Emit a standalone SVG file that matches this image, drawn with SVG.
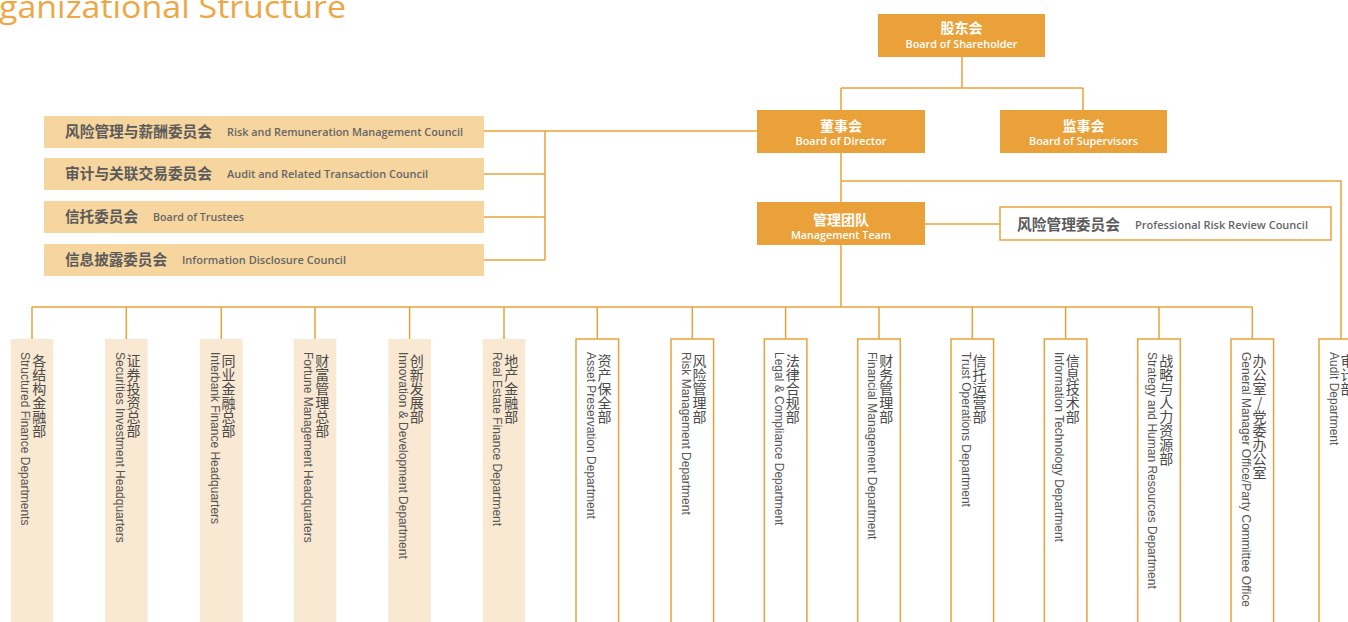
<svg xmlns="http://www.w3.org/2000/svg" width="1348" height="622" viewBox="0 0 1348 622">
<style>
.ln{stroke:#E9A23B;stroke-width:1.5;fill:none}
.ob{fill:#EBA13A}
.cb{fill:#F6D59E}
.lb{fill:#F9E8D2}
.wb{fill:#fff;stroke:#E9A23B;stroke-width:1.5}
.wcn{font-family:"Noto Sans CJK SC",sans-serif;font-size:14px;font-weight:700;fill:#fff;text-anchor:middle}
.wen{font-family:"Open Sans","Liberation Sans",sans-serif;font-size:11px;font-weight:600;fill:#fff;text-anchor:middle}
.ccn{font-family:"Noto Sans CJK SC",sans-serif;font-size:14.5px;font-weight:700;fill:#5a5a5a}
.cen{font-family:"Open Sans","Liberation Sans",sans-serif;font-size:11px;font-weight:600;fill:#666}
.vc{font-family:"Noto Sans CJK SC",sans-serif;font-size:14px;fill:#4a4a4a;writing-mode:vertical-rl;text-orientation:upright}
.ve{font-family:"Liberation Sans",sans-serif;font-size:12px;fill:#555;writing-mode:vertical-rl}
.title{font-family:"Open Sans","Liberation Sans",sans-serif;font-size:31px;fill:#ECA847}
</style>
<text class="title" x="-1" y="18" textLength="347" lengthAdjust="spacingAndGlyphs">ganizational Structure</text>

<g id="connectors">
<path class="ln" d="M962 57V88M841 88H1083M841 88V110M1083 88V110"/>
<path class="ln" d="M757 131H545M545 131V260M484 131H545M484 174H545M484 217H545M484 260H545"/>
<path class="ln" d="M841 153V202M841 181H1341V339M925 224H1000M841 245V307M32 307H1252.5"/>
<path class="ln" d="M32 307V339M126.3 307V339M221.3 307V339M315 307V339M409.6 307V339M504 307V339M597.3 307V339M692.3 307V339M785.6 307V339M879 307V339M972.3 307V339M1065.6 307V339M1159 307V339M1252.3 307V339"/>
</g>

<g id="shareholder"><rect class="ob" x="878" y="14" width="167" height="43"/><text class="wcn" x="961.5" y="33">股东会</text><text class="wen" x="961.5" y="48" textLength="112" lengthAdjust="spacingAndGlyphs">Board of Shareholder</text></g>
<g id="director"><rect class="ob" x="757" y="110" width="168" height="43"/><text class="wcn" x="841" y="131">董事会</text><text class="wen" x="841" y="145" textLength="91" lengthAdjust="spacingAndGlyphs">Board of Director</text></g>
<g id="supervisors"><rect class="ob" x="1000" y="110" width="167" height="43"/><text class="wcn" x="1083.5" y="131">监事会</text><text class="wen" x="1083.5" y="145" textLength="109" lengthAdjust="spacingAndGlyphs">Board of Supervisors</text></g>
<g id="management"><rect class="ob" x="757" y="202" width="168" height="43"/><text class="wcn" x="841" y="225">管理团队</text><text class="wen" x="841" y="239" textLength="100" lengthAdjust="spacingAndGlyphs">Management Team</text></g>
<g id="prof-risk"><rect class="wb" x="1000" y="207" width="331" height="33"/><text class="ccn" x="1017" y="230" textLength="103" lengthAdjust="spacingAndGlyphs">风险管理委员会</text><text class="cen" x="1135" y="229" textLength="173" lengthAdjust="spacingAndGlyphs">Professional Risk Review Council</text></g>

<g id="council-1"><rect class="cb" x="44" y="116" width="440" height="32"/><text class="ccn" x="65" y="137" textLength="147" lengthAdjust="spacingAndGlyphs">风险管理与薪酬委员会</text><text class="cen" x="227" y="136" textLength="236" lengthAdjust="spacingAndGlyphs">Risk and Remuneration Management Council</text></g>
<g id="council-2"><rect class="cb" x="44" y="158" width="440" height="32"/><text class="ccn" x="65" y="179" textLength="147" lengthAdjust="spacingAndGlyphs">审计与关联交易委员会</text><text class="cen" x="227" y="178" textLength="201" lengthAdjust="spacingAndGlyphs">Audit and Related Transaction Council</text></g>
<g id="council-3"><rect class="cb" x="44" y="201" width="440" height="32"/><text class="ccn" x="65" y="222" textLength="73" lengthAdjust="spacingAndGlyphs">信托委员会</text><text class="cen" x="153" y="221" textLength="91" lengthAdjust="spacingAndGlyphs">Board of Trustees</text></g>
<g id="council-4"><rect class="cb" x="44" y="244" width="440" height="32"/><text class="ccn" x="65" y="265" textLength="102" lengthAdjust="spacingAndGlyphs">信息披露委员会</text><text class="cen" x="182" y="264" textLength="164" lengthAdjust="spacingAndGlyphs">Information Disclosure Council</text></g>

<g id="dept-1"><rect class="lb" x="10.7" y="339" width="42.6" height="290"/><text class="vc" x="39.2" y="354">各结构金融部</text><text class="ve" x="25.2" y="352">Structured Finance Departments</text></g>
<g id="dept-2"><rect class="lb" x="105" y="339" width="42.6" height="290"/><text class="vc" x="133.5" y="354">证券投资总部</text><text class="ve" x="119.5" y="352">Securities Investment Headquarters</text></g>
<g id="dept-3"><rect class="lb" x="200" y="339" width="42.6" height="290"/><text class="vc" x="228.5" y="354">同业金融总部</text><text class="ve" x="214.5" y="352">Interbank Finance Headquarters</text></g>
<g id="dept-4"><rect class="lb" x="293.7" y="339" width="42.6" height="290"/><text class="vc" x="322.2" y="354">财富管理总部</text><text class="ve" x="308.2" y="352">Fortune Management Headquarters</text></g>
<g id="dept-5"><rect class="lb" x="388.3" y="339" width="42.6" height="290"/><text class="vc" x="416.8" y="354">创新发展部</text><text class="ve" x="402.8" y="352">Innovation &amp; Development Department</text></g>
<g id="dept-6"><rect class="lb" x="482.7" y="339" width="42.6" height="290"/><text class="vc" x="511.2" y="354">地产金融部</text><text class="ve" x="497.2" y="352">Real Estate Finance Department</text></g>
<g id="dept-7"><rect class="wb" x="576" y="339" width="42.6" height="290"/><text class="vc" x="604.5" y="354">资产保全部</text><text class="ve" x="590.5" y="352">Asset Preservation Department</text></g>
<g id="dept-8"><rect class="wb" x="671" y="339" width="42.6" height="290"/><text class="vc" x="699.5" y="354">风险管理部</text><text class="ve" x="685.5" y="352">Risk Management Department</text></g>
<g id="dept-9"><rect class="wb" x="764.3" y="339" width="42.6" height="290"/><text class="vc" x="792.8" y="354">法律合规部</text><text class="ve" x="778.8" y="352">Legal &amp; Compliance Department</text></g>
<g id="dept-10"><rect class="wb" x="857.7" y="339" width="42.6" height="290"/><text class="vc" x="886.2" y="354">财务管理部</text><text class="ve" x="872.2" y="352">Financial Management Department</text></g>
<g id="dept-11"><rect class="wb" x="951" y="339" width="42.6" height="290"/><text class="vc" x="979.5" y="354">信托运营部</text><text class="ve" x="965.5" y="352">Trust Operations Department</text></g>
<g id="dept-12"><rect class="wb" x="1044.3" y="339" width="42.6" height="290"/><text class="vc" x="1072.8" y="354">信息技术部</text><text class="ve" x="1058.8" y="352">Information Technology Department</text></g>
<g id="dept-13"><rect class="wb" x="1137.7" y="339" width="42.6" height="290"/><text class="vc" x="1166.2" y="354">战略与人力资源部</text><text class="ve" x="1152.2" y="352">Strategy and Human Resources Department</text></g>
<g id="dept-14"><rect class="wb" x="1231" y="339" width="42.6" height="290"/><text class="vc" x="1259.5" y="354">办公室/党委办公室</text><text class="ve" x="1245.5" y="352">General Manager Office/Party Committee Office</text></g>
<g id="dept-15"><rect class="wb" x="1319" y="339" width="42.6" height="290"/><text class="vc" x="1347.5" y="354">审计部</text><text class="ve" x="1333.5" y="352">Audit Department</text></g>
</svg>
